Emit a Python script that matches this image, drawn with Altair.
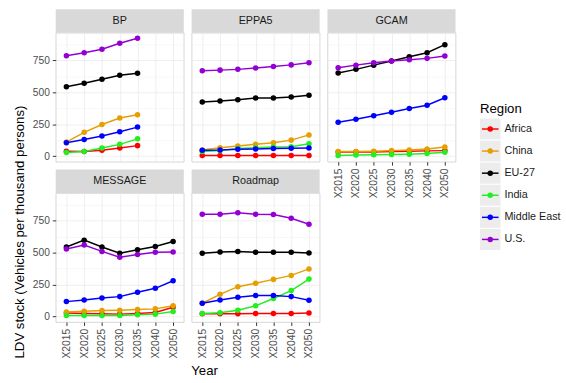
import altair as alt
import pandas as pd

years = ["X2015", "X2020", "X2025", "X2030", "X2035", "X2040", "X2050"]
regions = ["Africa", "China", "EU-27", "India", "Middle East", "U.S."]
colors = ["#ff0000", "#e69f00", "#000000", "#22ee22", "#0000ff", "#9400d3"]
models = ["BP", "EPPA5", "GCAM", "MESSAGE", "Roadmap"]

bp = {
    "Africa": [38, 36, 46, 64, 82],
    "China": [110, 186, 247, 298, 324],
    "EU-27": [543, 571, 602, 633, 648],
    "India": [28, 36, 64, 92, 135],
    "Middle East": [105, 130, 158, 191, 227],
    "U.S.": [786, 809, 837, 883, 923],
}
eppa5 = {
    "Africa": [5, 5, 5, 5, 5, 5, 5],
    "China": [48, 66, 79, 92, 105, 125, 166],
    "EU-27": [423, 431, 441, 454, 454, 462, 477],
    "India": [36, 43, 59, 66, 71, 74, 97],
    "Middle East": [46, 48, 54, 56, 59, 61, 64],
    "U.S.": [668, 673, 679, 689, 702, 714, 730],
}
gcam = {
    "Africa": [33, 33, 33, 36, 38, 41, 43],
    "China": [36, 36, 38, 43, 48, 56, 71],
    "EU-27": [650, 679, 712, 745, 778, 809, 872],
    "India": [5, 8, 10, 13, 15, 20, 31],
    "Middle East": [265, 288, 316, 344, 372, 398, 457],
    "U.S.": [691, 712, 730, 745, 755, 765, 783],
}
message = {
    "Africa": [26, 23, 21, 18, 23, 31, 72],
    "China": [34, 41, 47, 49, 54, 59, 83],
    "EU-27": [543, 597, 543, 494, 522, 548, 587],
    "India": [8, 8, 8, 8, 13, 18, 39],
    "Middle East": [116, 129, 145, 155, 189, 220, 279],
    "U.S.": [528, 559, 509, 463, 484, 502, 504],
}
roadmap = {
    "Africa": [21, 21, 21, 23, 23, 23, 26],
    "China": [103, 173, 233, 259, 290, 321, 372],
    "EU-27": [494, 504, 509, 502, 502, 502, 497],
    "India": [23, 28, 49, 83, 140, 202, 292],
    "Middle East": [103, 129, 150, 163, 163, 155, 127],
    "U.S.": [799, 799, 812, 799, 797, 768, 722],
}
y_ticks = [0, 125, 250, 375, 500, 625, 750, 875]

tables = {"BP": bp, "EPPA5": eppa5, "GCAM": gcam, "MESSAGE": message, "Roadmap": roadmap}
rows = []
for m in models:
    for r in regions:
        for yr, v in zip(years, tables[m][r]):
            rows.append({"model": m, "region": r, "year": yr, "value": v})
df = pd.DataFrame(rows)

W, H, STRIP = 131, 132, 24
FONT = "Liberation Sans"


def panel(model, show_y, show_x):
    d = df[df.model == model]
    xaxis = alt.Axis(title=None, labels=show_x, ticks=show_x, domain=False,
                     labelAngle=-90, labelFontSize=10.5, labelColor="#4d4d4d",
                     tickColor="#333333", tickSize=3.5, labelPadding=3,
                     grid=True, gridColor="#ebebeb", gridWidth=0.8)
    yaxis = alt.Axis(title=None, labels=show_y, ticks=show_y, domain=False,
                     values=y_ticks,
                     labelExpr="datum.value % 250 === 0 ? datum.label : ''",
                     labelFontSize=10.5, labelColor="#4d4d4d",
                     tickColor="#333333", tickSize=3.5, labelPadding=3,
                     tickOpacity={"condition": {"test": "datum.value % 250 === 0", "value": 1}, "value": 0},
                     grid=True, gridColor="#ebebeb",
                     gridWidth={"condition": {"test": "datum.value % 250 === 0", "value": 0.8}, "value": 0.4})
    base = alt.Chart(d).encode(
        x=alt.X("year:N", scale=alt.Scale(type="point", domain=years, padding=0.6), axis=xaxis),
        y=alt.Y("value:Q", scale=alt.Scale(domain=[-44, 966], nice=False, zero=False), axis=yaxis),
        color=alt.Color("region:N", scale=alt.Scale(domain=regions, range=colors), legend=None),
    )
    lines = base.mark_line(strokeWidth=1.5)
    pts = base.mark_point(filled=True, size=32, opacity=1)
    sd = pd.DataFrame({"m": [model]})
    strip = alt.Chart(sd).mark_rect(color="#d9d9d9").encode(
        x=alt.value(0), x2=alt.value(W), y=alt.value(-STRIP), y2=alt.value(0))
    stext = alt.Chart(sd).mark_text(fontSize=11, color="#1a1a1a", font=FONT, baseline="middle").encode(
        x=alt.value(W / 2), y=alt.value(-STRIP / 2), text="m:N")
    return alt.layer(strip, stext, lines, pts).properties(width=W, height=H)


col1 = alt.vconcat(panel("BP", True, False), panel("MESSAGE", True, True), spacing=6).properties(
    title=alt.TitleParams("LDV stock (Vehicles per thousand persons)", orient="left",
                          fontSize=13.5, fontWeight="normal", color="#000000", font=FONT, offset=6))
col2 = alt.vconcat(panel("EPPA5", False, False), panel("Roadmap", False, True), spacing=6).properties(
    title=alt.TitleParams("Year", orient="bottom", fontSize=13.5, fontWeight="normal",
                          color="#000000", font=FONT, offset=6))
col3 = panel("GCAM", False, True)

panels = alt.hconcat(col1, col2, col3, spacing=6)

# legend
ld = pd.DataFrame({"region": regions})
ysc = alt.Scale(type="band", domain=regions, range=[87.8, 222.2], paddingInner=0.05, paddingOuter=0)
cs = alt.Scale(domain=regions, range=colors)
lbase = alt.Chart(ld)
keys = lbase.mark_rect(color="#ececec").encode(
    y=alt.Y("region:N", scale=ysc, axis=None), x=alt.value(0), x2=alt.value(21))
lrule = lbase.mark_rule(strokeWidth=1.5).encode(
    y=alt.Y("region:N", scale=ysc, axis=None, bandPosition=0.5), x=alt.value(2), x2=alt.value(19),
    color=alt.Color("region:N", scale=cs, legend=None))
lpts = lbase.mark_point(filled=True, size=32, opacity=1).encode(
    y=alt.Y("region:N", scale=ysc, axis=None, bandPosition=0.5), x=alt.value(10.5),
    color=alt.Color("region:N", scale=cs, legend=None))
ltext = lbase.mark_text(align="left", baseline="middle", fontSize=11, font=FONT, color="#1a1a1a").encode(
    y=alt.Y("region:N", scale=ysc, axis=None, bandPosition=0.5), x=alt.value(25), text="region:N")
ltitle = alt.Chart(pd.DataFrame({"t": ["Region"]})).mark_text(
    align="left", baseline="middle", fontSize=13.5, font=FONT, color="#000000").encode(
    x=alt.value(0), y=alt.value(78), text="t:N")
legend = alt.layer(keys, lrule, lpts, ltext, ltitle).properties(
    width=80, height=260, view=alt.ViewConfig(stroke=None))

chart = alt.hconcat(panels, legend, spacing=24).configure(
    font=FONT, padding={"left": 13, "top": 4, "right": 5, "bottom": 5}
).configure_view(stroke="#cccccc", strokeWidth=0.8).configure_concat(spacing=6)

chart.save("out.html", embed_options={"renderer": "svg", "actions": False})
